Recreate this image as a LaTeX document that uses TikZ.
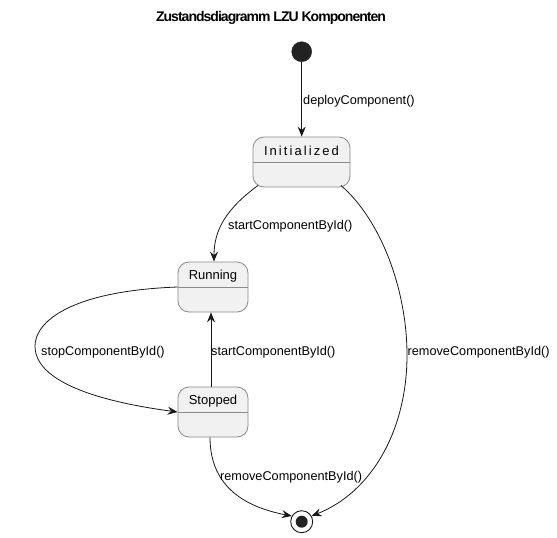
\documentclass[tikz,border=0pt]{standalone}
\usepackage{fontspec}
\setmainfont{Liberation Sans}
\usetikzlibrary{arrows.meta}
\definecolor{boxfill}{HTML}{F1F1F1}
\definecolor{boxline}{HTML}{8A8A8A}
\definecolor{ink}{HTML}{181818}
\definecolor{dot}{HTML}{222222}
\tikzset{
  x=1pt, y=-1pt,
  statebox/.style={draw=boxline, fill=boxfill, line width=0.8pt, rounded corners=11pt, minimum width=70pt, minimum height=50pt, inner sep=0pt},
  statename/.style={inner sep=0pt, font=\fontsize{13}{15}\selectfont, text=black},
  sep/.style={draw=boxline, line width=0.8pt},
  edge/.style={draw=ink, line width=0.8pt, -{Stealth[length=10pt, width=8pt, inset=3.5pt]}},
  elabel/.style={inner sep=0pt, anchor=west, font=\fontsize{12.7}{15}\selectfont, text=black},
}
\begin{document}
\begin{tikzpicture}
\useasboundingbox (0,0) rectangle (557,538);
% title
\node[inner sep=0pt, font=\fontsize{14}{16}\bfseries\addfontfeatures{LetterSpace=-7}] (title) at (271,18) {Zustandsdiagramm LZU Komponenten};
% start / end
\node[circle, fill=dot, draw=dot, minimum size=20pt, inner sep=0pt] (start) at (301.7,51.7) {};
\node[circle, draw=ink, fill=white, line width=0.9pt, minimum size=22pt, inner sep=0pt] (end) at (301.7,521.7) {};
\node[circle, fill=dot, minimum size=12pt, inner sep=0pt] (enddot) at (end.center) {};
% states
\node[statebox, minimum width=97pt] (init) at (301.5,162) {};
\draw[sep] (init.west) -- (init.east);
\node[statename, font=\fontsize{13}{15}\selectfont\addfontfeatures{LetterSpace=16}] (initname) at ([yshift=11.5pt]init.center) {Initialized};
\node[statebox] (run) at (213,287) {};
\draw[sep] (run.west) -- (run.east);
\node[statename] (runname) at ([yshift=11pt]run.center) {Running};
\node[statebox] (stop) at (213,412) {};
\draw[sep] (stop.west) -- (stop.east);
\node[statename] (stopname) at ([yshift=11pt]stop.center) {Stopped};
% edges
\draw[edge] (start) -- (init.north -| start);
\node[elabel] (l1) at (303,101) {deployComponent()};
\draw[edge] (258,185.5) .. controls (226,209) and (214,230) .. (run.north -| 214,0);
\node[elabel] (l2) at (228,226) {startComponentById()};
\draw[edge] (341,185.5) .. controls (381,220) and (407,290) .. (407,355) .. controls (407,430) and (372,492) .. (end.30);
\node[elabel] (l3) at (407.5,352) {removeComponentById()};
\draw[edge] (run.west) .. controls (70,291) and (35,322) .. (35,346) .. controls (35,385) and (110,403) .. (stop.west);
\node[elabel] (l4) at (41,352) {stopComponentById()};
\draw[edge] (stop.north -| 211,0) -- (run.south -| 211,0);
\node[elabel] (l5) at (211,352) {startComponentById()};
\draw[edge] (stop.south -| 210,0) .. controls (210,490) and (250,508) .. (end.150);
\node[elabel] (l6) at (220,477) {removeComponentById()};
\end{tikzpicture}
\end{document}
